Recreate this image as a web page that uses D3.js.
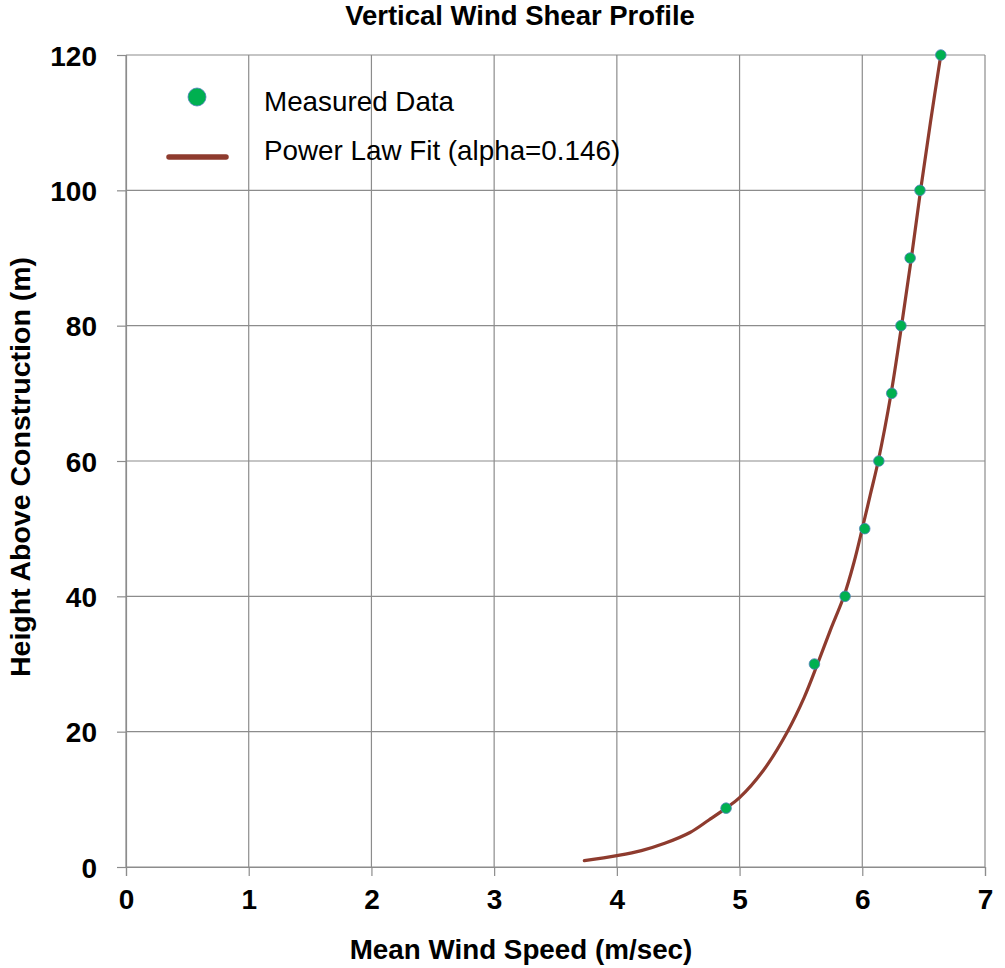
<!DOCTYPE html>
<html>
<head>
<meta charset="utf-8">
<script src="https://cdn.jsdelivr.net/npm/d3@7/dist/d3.min.js"></script>
<style>
  html, body { margin: 0; padding: 0; background: #fff; }
  svg { display: block; }
</style>
</head>
<body>
<svg id="chart" width="1005" height="968"></svg>
<script>
// ---- Data ----
const measuredSpeed  = [4.89, 5.61, 5.86, 6.02, 6.135, 6.24, 6.315, 6.39, 6.47, 6.64];
const measuredHeight = [8.7, 30, 40, 50, 60, 70, 80, 90, 100, 120];

const fitSpeed  = [3.735, 4.0, 4.2, 4.39, 4.596, 4.75, 4.89, 5.0, 5.195, 5.39, 5.525, 5.635, 5.74, 5.85, 5.932, 6.0, 6.065, 6.13, 6.235, 6.32, 6.40, 6.475, 6.555, 6.64];
const fitHeight = [0.93, 1.68, 2.42, 3.5, 5.1, 6.95, 8.7, 10.25, 14.3, 20, 25, 30, 35, 40, 45, 50, 55, 60, 70, 80, 90, 100, 110, 120];

const xTicks = [0, 1, 2, 3, 4, 5, 6, 7];
const yTicks = [0, 20, 40, 60, 80, 100, 120];

const titleText = "Vertical Wind Shear Profile";
const xTitle = "Mean Wind Speed (m/sec)";
const yTitle = "Height Above Construction (m)";
const legendLabels = ["Measured Data", "Power Law Fit (alpha=0.146)"];

// ---- Layout ----
const svg = d3.select("#chart");
const L = 126, R = 985, T = 55, B = 867;
const gridColor = "#8c8c8c";
const lineColor = "#8e3b2e";
const dotFill = "#00b050";
const dotStroke = "#4f81bd";
const font = "'Liberation Sans', Arial, sans-serif";

const x = d3.scaleLinear().domain([0, 7]).range([L, R]);
const y = d3.scaleLinear().domain([0, 120]).range([B, T]);

// Grid
svg.append("g").selectAll("line").data(xTicks).join("line")
  .attr("x1", d => x(d)).attr("x2", d => x(d))
  .attr("y1", T).attr("y2", B)
  .attr("stroke", gridColor).attr("stroke-width", 1.2);
svg.append("g").selectAll("line").data(yTicks).join("line")
  .attr("x1", L).attr("x2", R)
  .attr("y1", d => y(d)).attr("y2", d => y(d))
  .attr("stroke", gridColor).attr("stroke-width", 1.2);

// Axes
const xAxis = d3.axisBottom(x).tickValues(xTicks).tickSize(9).tickPadding(13).tickFormat(d3.format("d"));
const yAxis = d3.axisLeft(y).tickValues(yTicks).tickSize(9).tickPadding(20).tickFormat(d3.format("d"));

const gx = svg.append("g").attr("transform", `translate(0,${B})`).call(xAxis);
const gy = svg.append("g").attr("transform", `translate(${L},0)`).call(yAxis);
[gx, gy].forEach(g => {
  g.select(".domain").attr("stroke", gridColor).attr("stroke-width", 1.2);
  g.selectAll(".tick line").attr("stroke", gridColor).attr("stroke-width", 1.2);
  g.selectAll(".tick text")
    .attr("fill", "#000")
    .style("font-family", font)
    .style("font-weight", "bold")
    .style("font-size", "28px");
});
gx.selectAll(".tick text").attr("dy", "0.71em");
gy.selectAll(".tick text").attr("dy", "0.36em");

// Fit line
const line = d3.line()
  .x((d, i) => x(fitSpeed[i]))
  .y((d, i) => y(fitHeight[i]))
  .curve(d3.curveCatmullRom.alpha(0.5));
svg.append("path")
  .datum(fitSpeed)
  .attr("d", line)
  .attr("fill", "none")
  .attr("stroke", lineColor)
  .attr("stroke-width", 3.2)
  .attr("stroke-linecap", "round");

// Points
svg.append("g").selectAll("circle").data(measuredSpeed).join("circle")
  .attr("cx", d => x(d))
  .attr("cy", (d, i) => y(measuredHeight[i]))
  .attr("r", 5.3)
  .attr("fill", dotFill)
  .attr("stroke", dotStroke)
  .attr("stroke-width", 0.8);

// Legend
const lg = svg.append("g");
lg.append("circle").attr("cx", 197).attr("cy", 97).attr("r", 9)
  .attr("fill", dotFill).attr("stroke", dotStroke).attr("stroke-width", 0.8);
lg.append("line").attr("x1", 169).attr("x2", 226).attr("y1", 157).attr("y2", 157)
  .attr("stroke", lineColor).attr("stroke-width", 5.5).attr("stroke-linecap", "round");
lg.selectAll("text").data(legendLabels).join("text")
  .attr("x", 264)
  .attr("y", (d, i) => [111, 160][i])
  .text(d => d)
  .attr("fill", "#000")
  .style("font-family", font)
  .style("font-size", "27.8px");

// Titles
svg.append("text").attr("x", 520).attr("y", 25).attr("text-anchor", "middle")
  .text(titleText).style("font-family", font).style("font-weight", "bold").style("font-size", "27.5px");
svg.append("text").attr("x", 521).attr("y", 959).attr("text-anchor", "middle")
  .text(xTitle).style("font-family", font).style("font-weight", "bold").style("font-size", "27.8px");
svg.append("text").attr("transform", "translate(30,467) rotate(-90)").attr("text-anchor", "middle")
  .text(yTitle).style("font-family", font).style("font-weight", "bold").style("font-size", "28.5px");
</script>
</body>
</html>
